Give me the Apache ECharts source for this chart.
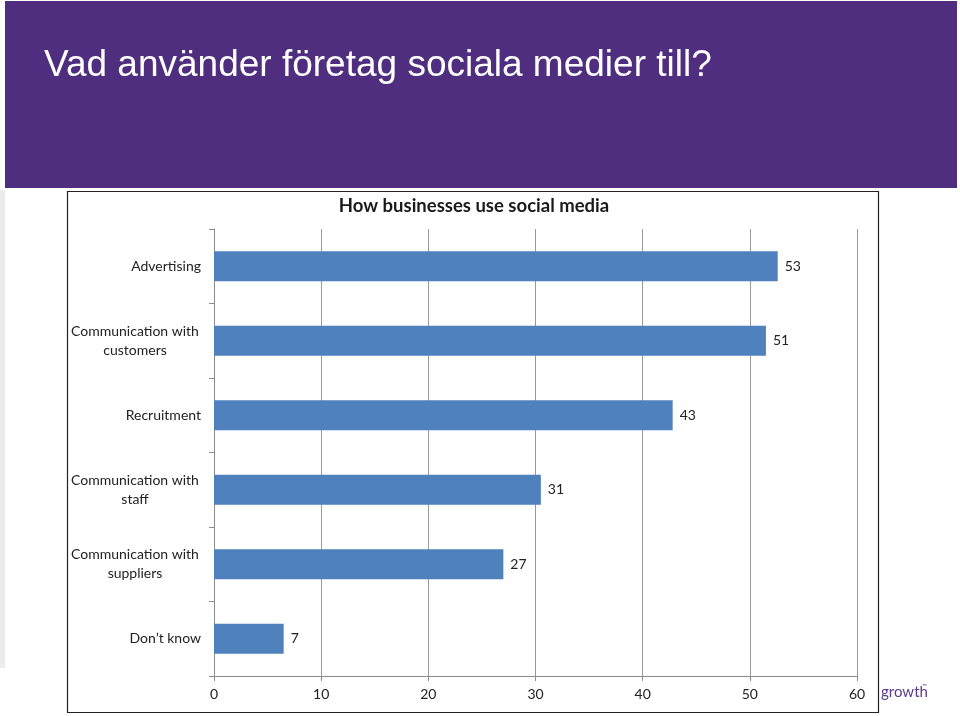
<!DOCTYPE html>
<html>
<head>
<meta charset="utf-8">
<script src="https://cdn.jsdelivr.net/npm/echarts@6/dist/echarts.min.js"></script>
<style>
  html, body { margin: 0; padding: 0; background: #fff; }
  #main { width: 960px; height: 716px; }
</style>
</head>
<body>
<div id="main"></div>
<script>
// kategorier och värden (läst från bilden)
var categories = ['Advertising', 'Communication with\ncustomers', 'Recruitment',
    'Communication with\nstaff', 'Communication with\nsuppliers', 'Don\u2019t know'];
var barLengths = [52.6, 51.5, 42.8, 30.5, 27.0, 6.5];   // stapellängd uppmätt mot axeln
var valueLabels = [53, 51, 43, 31, 27, 7];               // siffrorna som står vid staplarna
var xTicks = [0, 10, 20, 30, 40, 50, 60];

var chart = echarts.init(document.getElementById('main'));

var option = {
    backgroundColor: '#ffffff',
    animation: false,
    title: [{
        text: 'Vad använder företag sociala medier till?',
        left: 39, top: 42,
        textStyle: { color: '#ffffff', fontFamily: 'Liberation Sans', fontSize: 37, fontWeight: 'normal' }
    }, {
        text: 'How businesses use social media',
        left: 469, top: 192, textAlign: 'center',
        textStyle: { color: '#1a1a1a', fontFamily: 'Lato', fontSize: 18.5, fontWeight: 'bold' }
    }],
    graphic: [
        // lila rubrikfält
        { type: 'rect', z: -10, shape: { x: 5, y: 1, width: 952, height: 187 }, style: { fill: '#4f2d7f' } },
        { type: 'rect', z: -10, shape: { x: 0, y: 190, width: 5, height: 478 }, style: { fill: '#ececec' } },
        // ram runt diagrammet
        { type: 'rect', z: -5, shape: { x: 67.5, y: 191.5, width: 811, height: 521 }, style: { fill: '#fff', stroke: '#222', lineWidth: 1.2 } },
        { type: 'text', left: 881, top: 685, style: { text: 'growth', fill: '#5b3a8c', font: '15px Lato' } },
        { type: 'text', left: 922, top: 683, style: { text: '\u2122', fill: '#5b3a8c', font: '6px Lato' } }
    ],
    grid: { left: 214, right: 103, top: 229, bottom: 40 },
    xAxis: {
        type: 'value', min: 0, max: 60, interval: 10,
        axisLine: { show: true, lineStyle: { color: '#8c8c8c' } },
        axisTick: { show: true, length: 5, lineStyle: { color: '#8c8c8c' } },
        axisLabel: {
            margin: 11, color: '#222', fontFamily: 'Lato', fontSize: 14,
            formatter: function (v) { return xTicks.indexOf(v) >= 0 ? String(v) : ''; }
        },
        splitLine: { show: true, lineStyle: { color: '#9a9a9a', width: 1 } }
    },
    yAxis: {
        type: 'category', data: categories, inverse: true,
        axisLine: { show: true, lineStyle: { color: '#8c8c8c' } },
        axisTick: { show: true, length: 5, lineStyle: { color: '#8c8c8c' } },
        axisLabel: {
            margin: 13, color: '#222', fontFamily: 'Lato', fontSize: 14, lineHeight: 19, align: 'right',
            formatter: function (v) {
                var rows = v.split('\n');
                if (rows.length === 1) return v;
                return rows.map(function (r) { return '{c|' + r + '}'; }).join('\n');
            },
            rich: {
                c: { width: 132, align: 'center', color: '#222', fontFamily: 'Lato', fontSize: 14, lineHeight: 19 }
            }
        }
    },
    series: [{
        type: 'bar',
        data: barLengths,
        barCategoryGap: '60%',
        itemStyle: { color: '#4f81bd' },
        label: {
            show: true, position: 'right', distance: 7,
            color: '#222', fontFamily: 'Lato', fontSize: 14,
            formatter: function (p) { return String(valueLabels[p.dataIndex]); }
        }
    }]
};

chart.setOption(option);
</script>
</body>
</html>
